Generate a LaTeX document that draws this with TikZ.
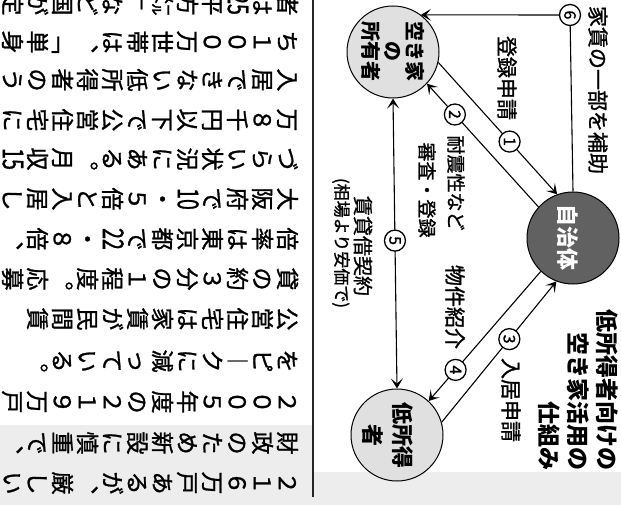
\documentclass[tikz,border=0pt]{standalone}
\usepackage{fontspec}
\usepackage{graphicx}
\newfontfamily\jp{Noto Sans CJK JP}
\newfontfamily\jpb[FakeBold=1.2]{Noto Sans CJK JP}
\usetikzlibrary{arrows.meta}
\newcommand\tcy[1]{\raisebox{-1pt}{\scalebox{0.85}[1.25]{#1}}}
\newcommand\bodyline[3]{\foreach \c [count=\k] in {#3} {\node[bodych] (L#1-\k) at ({312.5-25*\k}, #2) {\c};}}
\tikzset{
  bodych/.style={rotate=-90, inner sep=0pt, font=\jpb\fontsize{23}{23}\selectfont,
    text height=20.2pt, text depth=2.8pt, text width=23pt, align=center},
  lab/.style={rotate=-90, inner sep=0pt, font=\jpb\fontsize{21}{23}\selectfont, align=center},
  numc/.style={circle, draw, line width=1.3pt, fill=white, inner sep=0pt, minimum size=21pt,
    rotate=-90, font=\jpb\fontsize{16}{16}\selectfont},
  party/.style={circle, draw, line width=1pt, minimum size=92pt, inner sep=0pt},
  conn/.style={line width=1.1pt},
  tip/.style={-{Stealth[length=10pt,width=12pt,inset=5pt]}},
  tips/.style={{Stealth[length=10pt,width=12pt,inset=5pt]}-{Stealth[length=10pt,width=12pt,inset=5pt]}},
}
\begin{document}
\begin{tikzpicture}[x=1pt,y=-1pt]
\useasboundingbox (0,0) rectangle (621,505);
\fill[black!7] (0,425) -- (313,425) -- (313,472) -- (621,472) -- (621,505) -- (0,505) -- cycle;
\draw[line width=1.2pt, black!85] (313,0) -- (313,497);

% body text (vertical columns, rotated)
\bodyline{0}{4}{者,は,{\tcy{25}},平,方,㍍,﹂,な,ど,国,が,定}
\bodyline{1}{42}{ち,１,０,０,万,世,帯,は,︑,﹁,単,身}
\bodyline{2}{80}{入,居,で,き,な,い,低,所,得,者,の,う}
\bodyline{3}{120}{万,８,千,円,以,下,で,公,営,住,宅,に}
\bodyline{4}{159}{づ,ら,い,状,況,に,あ,る,︒,月,収,{\tcy{15}}}
\bodyline{5}{199}{大,阪,府,で,{\tcy{10}},・,５,倍,と,入,居,し}
\bodyline{6}{239}{倍,率,は,東,京,都,で,{\tcy{22}},・,８,倍,︑}
\bodyline{7}{279}{貸,の,約,３,分,の,１,程,度,︒,応,募}
\bodyline{8}{319}{公,営,住,宅,は,家,賃,が,民,間,賃}
\bodyline{9}{361}{を,ピ,︱,ク,に,減,っ,て,い,る,︒}
\bodyline{10}{402}{２,０,０,５,年,度,の,２,１,９,万,戸}
\bodyline{11}{443}{財,政,の,た,め,新,設,に,慎,重,で,︑}
\bodyline{12}{483}{２,１,６,万,戸,あ,る,が,︑,厳,し,い}

% parties
\node[party, fill=black!12] (A) at (393,52) {};
\node[party, fill=black!62] (B) at (573,238) {};
\node[party, fill=black!12] (C) at (397,435) {};
\node[rotate=-90, inner sep=0pt, align=center, font=\jp\bfseries\fontsize{20}{22}\selectfont] (At) at (A.center) {空き家\\の\\所有者};
\node[rotate=-90, inner sep=0pt, text=white, font=\jp\bfseries\fontsize{22}{24}\selectfont] (Bt) at (568,238) {自治体};
\node[rotate=-90, inner sep=0pt, align=center, font=\jp\bfseries\fontsize{22}{30}\selectfont] (Ct) at (388,435) {低所得\\者};

% title
\node[rotate=-90, inner sep=0pt, align=right, font=\jp\bfseries\fontsize{23}{29}\selectfont] (title) at (578,390) {低所得者向けの\\空き家活用の\\仕組み};

% connectors
\node[numc] (n6) at (570,15) {6};
\draw[conn, tip] (n6) -- (A.53);
\draw[conn] (n6) -- (B.north);
\draw[conn, tip] (A.-13) -- node[numc, pos=0.6] (n1) {1} (B.110);
\draw[conn, tip] (B.138) -- node[numc, pos=0.75] (n2) {2} (A.-43);
\draw[conn, tip] (C.16) -- node[numc, pos=0.59] (n3) {3} (B.249);
\draw[conn, tip] (B.226) -- node[numc, pos=0.76] (n4) {4} (C.47);
\draw[conn, tips] (A.south) -- node[numc, pos=0.49] (n5) {5} (C.north);

% labels
\node[lab] (l6) at (598,90) {家賃の一部を補助};
\node[lab] (l1) at (507,78) {登録申請};
\node[lab, font=\jpb\fontsize{19}{21}\selectfont] (l2a) at (456,183) {耐震性など};
\node[lab, font=\jpb\fontsize{19}{21}\selectfont] (l2b) at (427,190) {審査・登録};
\node[lab, font=\jpb\fontsize{20}{22}\selectfont] (l5a) at (363,246) {賃貸借契約};
\node[lab, font=\jpb\fontsize{17}{19}\selectfont] (l5b) at (341,243) {(相場より安価で)};
\node[lab] (l4) at (455,307) {物件紹介};
\node[lab] (l3) at (511,400) {入居申請};
\end{tikzpicture}
\end{document}
